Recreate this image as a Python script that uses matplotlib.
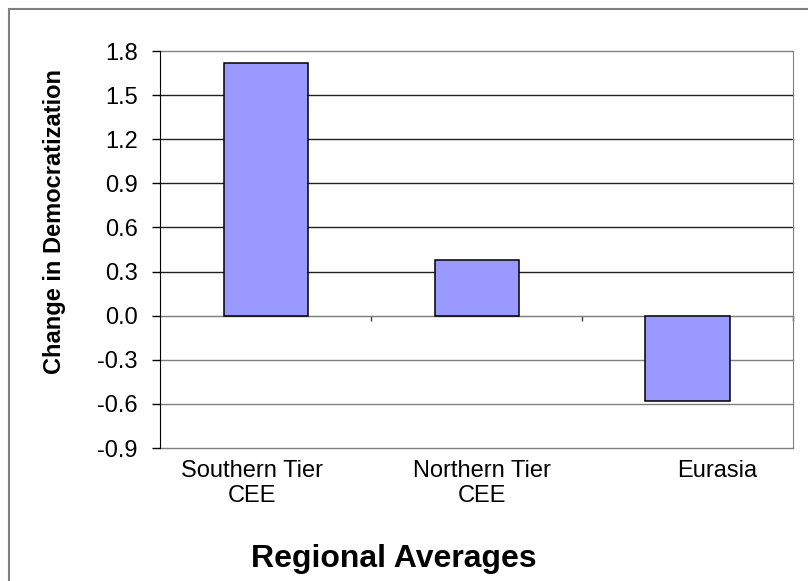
import matplotlib.pyplot as plt
from matplotlib.patches import Rectangle

plt.rcParams['font.family'] = ['Liberation Sans', 'DejaVu Sans']

regions = ['Southern Tier\nCEE', 'Northern Tier\nCEE', 'Eurasia']
change = [1.72, 0.38, -0.58]
yticks = [-0.9, -0.6, -0.3, 0.0, 0.3, 0.6, 0.9, 1.2, 1.5, 1.8]

fig = plt.figure(figsize=(8.08, 5.81), dpi=100)
ax = fig.add_axes([0.1986, 0.2289, 0.7828, 0.6833])

x = range(len(regions))
ax.bar(x, change, width=0.4, color='#9999FF', edgecolor='black', linewidth=1.1, zorder=3)

ax.set_xlim(-0.5, 2.5)
ax.set_ylim(-0.9, 1.8)
ax.set_yticks(yticks)
ax.set_yticklabels(['%.1f' % v for v in yticks])
ax.tick_params(axis='y', direction='out', length=5.5, width=1, pad=11, labelsize=17, color='black')

# gridlines (the outer ones double as the plot-area border)
ax.yaxis.grid(True, linewidth=1, zorder=0)
for v, line in zip(yticks, ax.yaxis.get_gridlines()):
    line.set_color('#202020' if 0.1 < v < 1.7 else '#808080')
    line.set_clip_on(False)

# category axis crosses at zero
ax.spines['bottom'].set_position(('data', 0))
ax.spines['bottom'].set_color('#808080')
ax.spines['top'].set_visible(False)
ax.spines['right'].set_color('#808080')
ax.spines['left'].set_color('black')
ax.spines['left'].set_zorder(4)
ax.set_xticks([0.5, 1.5, 2.5])
ax.set_xticklabels([])
ax.tick_params(axis='x', direction='out', length=3.6, width=1, color='#404040')

# category labels below plot area
shifts = [-10, 3.6, 21.6]
for i, (lab, dx) in enumerate(zip(regions, shifts)):
    ax.annotate(lab, xy=(i, 0), xycoords=('data', 'axes fraction'),
                xytext=(dx, -8.6), textcoords='offset points',
                ha='center', va='top', fontsize=17, multialignment='center',
                linespacing=1.2)

fig.text(55 / 808, 1 - 222 / 581, 'Change in Democratization', rotation=90,
         ha='center', va='center', fontsize=17, fontweight='bold')
fig.text(393.5 / 808, 1 - 567 / 581, 'Regional Averages', ha='center', va='baseline',
         fontsize=23, fontweight='bold')

# outer chart border
fig.patches.append(Rectangle((8.5 / 808, -0.1), 1.2, 1.1 - 8.5 / 581, transform=fig.transFigure,
                             fill=False, edgecolor='#808080', linewidth=1.5))

fig.savefig('out.png', dpi=100)
